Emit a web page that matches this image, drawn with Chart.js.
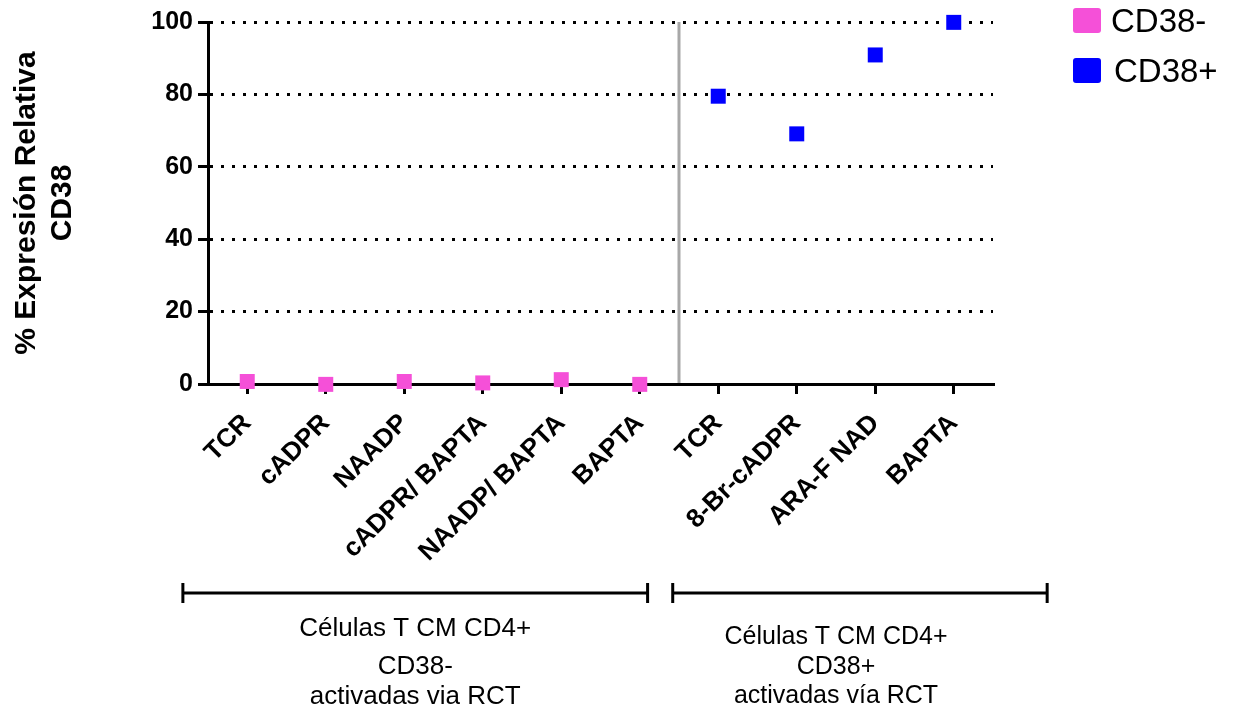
<!DOCTYPE html>
<html>
<head>
<meta charset="utf-8">
<script src="https://cdn.jsdelivr.net/npm/chart.js@4"></script>
<style>
  html, body { margin: 0; padding: 0; background: #fff; }
  canvas { display: block; }
</style>
</head>
<body>
<canvas id="myChart" width="1236" height="713"></canvas>
<script>
// Data
const categories = ['TCR', 'cADPR', 'NAADP', 'cADPR/ BAPTA', 'NAADP/ BAPTA', 'BAPTA', 'TCR', '8-Br-cADPR', 'ARA-F NAD', 'BAPTA'];
const cd38NegValues = [0.7, -0.1, 0.7, 0.3, 1.2, -0.1, null, null, null, null];
const cd38PosValues = [null, null, null, null, null, null, 79.5, 69.1, 90.9, 99.9];
const yTicks = [0, 20, 40, 60, 80, 100];
const seriesNames = ['CD38-', 'CD38+'];
const groupLabels = [
    ['Células T CM CD4+', 'CD38-', 'activadas via RCT'],
    ['Células T CM CD4+', 'CD38+', 'activadas vía RCT']
];

const PINK = '#F550D8';
const BLUE = '#0000FF';
const FONT = "'Liberation Sans', Arial, Helvetica, sans-serif";

Chart.defaults.font.family = FONT;
Chart.defaults.color = '#000';

// Divider, group brackets, group labels and legend
const extras = {
    id: 'extras',
    beforeDatasetsDraw(chart) {
        const { ctx, chartArea, scales: { x } } = chart;
        const px = x.getPixelForValue(5.5);
        ctx.save();
        ctx.strokeStyle = '#A8A8A8';
        ctx.lineWidth = 3;
        ctx.beginPath();
        ctx.moveTo(px, chartArea.top);
        ctx.lineTo(px, chartArea.bottom - 1);
        ctx.stroke();
        ctx.restore();
    },
    afterDraw(chart) {
        const { ctx, scales: { x } } = chart;
        ctx.save();

        // group brackets
        const brackets = [[-0.82, 5.1], [5.42, 10.19]];
        ctx.strokeStyle = '#000';
        ctx.lineWidth = 3;
        brackets.forEach(([a, b]) => {
            const x1 = x.getPixelForValue(a);
            const x2 = x.getPixelForValue(b);
            ctx.beginPath();
            ctx.moveTo(x1, 593);
            ctx.lineTo(x2, 593);
            ctx.moveTo(x1, 583);
            ctx.lineTo(x1, 603);
            ctx.moveTo(x2, 583);
            ctx.lineTo(x2, 603);
            ctx.stroke();
        });

        // group labels
        ctx.fillStyle = '#000';
        ctx.textAlign = 'center';
        ctx.textBaseline = 'middle';
        const groupPos = [
            { c: 2.14, ys: [629, 667, 697], size: 26 },
            { c: 7.5, ys: [637, 667, 696], size: 25 }
        ];
        groupLabels.forEach((lines, g) => {
            const p = groupPos[g];
            ctx.font = p.size + 'px ' + FONT;
            lines.forEach((t, i) => ctx.fillText(t, x.getPixelForValue(p.c), p.ys[i]));
        });

        // legend
        const colors = [PINK, BLUE];
        ctx.textAlign = 'left';
        ctx.font = '33px ' + FONT;
        seriesNames.forEach((name, i) => {
            const top = 8 + i * 50;
            ctx.fillStyle = colors[i];
            ctx.beginPath();
            ctx.roundRect(1073, top, 28, 25, 3);
            ctx.fill();
            ctx.fillStyle = '#000';
            ctx.fillText(name, 1111 + i * 3, top + 15);
        });
        ctx.restore();
    }
};

new Chart('myChart', {
    type: 'line',
    data: {
        labels: categories,
        datasets: [{
            label: seriesNames[0],
            data: cd38NegValues,
            showLine: false,
            pointStyle: 'rect',
            pointRadius: 10.6,
            pointHoverRadius: 10.6,
            pointBorderWidth: 0,
            backgroundColor: PINK,
            borderColor: PINK,
            clip: false
        }, {
            label: seriesNames[1],
            data: cd38PosValues,
            showLine: false,
            pointStyle: 'rect',
            pointRadius: 10.6,
            pointHoverRadius: 10.6,
            pointBorderWidth: 0,
            backgroundColor: BLUE,
            borderColor: BLUE,
            clip: false
        }]
    },
    options: {
        responsive: false,
        animation: false,
        devicePixelRatio: 1,
        layout: { padding: { top: 22, right: 243, left: 0, bottom: 0 } },
        plugins: {
            legend: { display: false },
            tooltip: { enabled: false }
        },
        scales: {
            x: {
                offset: true,
                afterFit(scale) { scale.height = 713 - 384; },
                grid: {
                    display: true,
                    drawOnChartArea: false,
                    drawTicks: true,
                    tickLength: 10,
                    color: '#000',
                    lineWidth: 3,
                    tickWidth: 3
                },
                border: { display: true, color: '#000', width: 3 },
                ticks: {
                    autoSkip: false,
                    minRotation: 45,
                    maxRotation: 45,
                    padding: 14,
                    color: '#000',
                    font: { size: 26, weight: 'bold' }
                }
            },
            y: {
                min: 0,
                max: 100,
                afterFit(scale) { scale.width = 208; },
                afterBuildTicks(scale) { scale.ticks = yTicks.map(v => ({ value: v })); },
                grid: {
                    color: ctx => (ctx.tick && ctx.tick.value === 0 ? 'rgba(0,0,0,0)' : '#000'),
                    lineWidth: 3,
                    tickLength: 10,
                    tickColor: '#000',
                    tickWidth: 3,
                    tickBorderDash: [20, 0]
                },
                border: { display: true, color: '#000', width: 3, dash: [3, 8] },
                ticks: {
                    padding: 5,
                    color: '#000',
                    font: { size: 25, weight: 'bold' }
                },
                title: {
                    display: true,
                    text: ['% Expresión Relativa', 'CD38'],
                    color: '#000',
                    padding: { top: 9, bottom: 0 },
                    font: { size: 30, weight: 'bold', lineHeight: 1.2 }
                }
            }
        }
    },
    plugins: [extras]
});
</script>
</body>
</html>
